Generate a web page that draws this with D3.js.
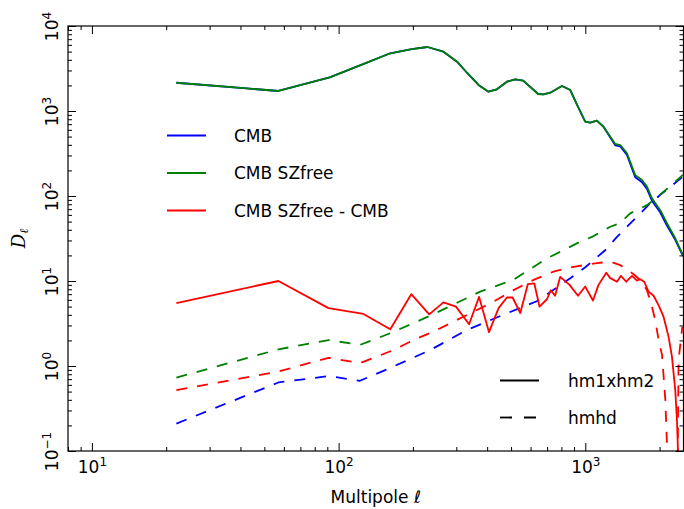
<!DOCTYPE html>
<html>
<head>
<meta charset="utf-8">
<script src="https://cdn.jsdelivr.net/npm/d3@7"></script>
<style>
  html, body { margin: 0; padding: 0; background: #fff; }
  svg { display: block; font-family: "DejaVu Sans", sans-serif; }
</style>
</head>
<body>
<svg id="chart" width="684" height="509"></svg>
<script>
// ---------- DATA ----------
// Solid curves (hm1xhm2)
const ellSolid   = [22, 57, 92, 125, 162, 198, 229, 266, 302, 332, 369, 405, 438, 481, 520, 560, 644, 677, 721, 804, 869, 927, 999, 1047, 1114, 1186, 1322, 1386, 1475, 1593, 1697, 1778, 1862, 2013, 2142, 2315, 2488];
const cmbSolid   = [2150, 1720, 2490, 3540, 4775, 5358, 5663, 4990, 3800, 2800, 2024, 1687, 1800, 2212, 2362, 2276, 1585, 1570, 1641, 1968, 1766, 1175, 748, 728, 769, 650, 395, 383, 305, 166, 145, 121, 88, 64, 45, 30.5, 19.6];
const szfSolid   = [2150, 1720, 2490, 3540, 4775, 5358, 5663, 4990, 3800, 2800, 2024, 1687, 1800, 2212, 2362, 2276, 1585, 1570, 1641, 1968, 1766, 1175, 748, 728, 769, 653, 409, 398, 318, 176, 154, 129, 94, 68, 48, 31.8, 20.2];
const ellDiff    = [22, 57, 91, 126, 162, 197, 233, 266, 299, 338, 371, 407, 445, 481, 507, 545, 585, 621, 652, 699, 725, 754, 791, 863, 934, 999, 1074, 1131, 1216, 1262, 1344, 1394, 1465, 1546, 1619, 1669, 1733, 1804, 1891, 1980, 2075, 2175, 2245, 2315, 2352, 2372, 2385];
const diffSolid  = [5.5, 10.0, 4.8, 4.1, 2.7, 7.0, 4.05, 5.6, 5.0, 3.1, 6.5, 2.5, 4.8, 6.4, 6.4, 4.2, 9.2, 9.4, 5.0, 6.1, 7.8, 6.7, 11.2, 9.0, 6.7, 8.6, 5.9, 9.0, 12.5, 10.8, 9.8, 11.5, 9.8, 11.5, 10.1, 10.5, 9.8, 7.5, 6.7, 5.2, 3.8, 2.2, 1.28, 0.52, 0.23, 0.11, 0.01];
// Dashed curves (hmhd)
const ellCmbDash = [22, 57, 91, 122, 162, 235, 331, 481, 580, 656, 710, 869, 1000, 1203, 1344, 1384, 1569, 1832, 2013, 2488];
const cmbDash    = [0.21, 0.64, 0.76, 0.67, 0.95, 1.54, 2.65, 4.17, 5.2, 6.0, 7.2, 10.8, 14.5, 23, 33, 36, 52, 82, 103, 169];
const ellSzfDash = [22, 57, 91, 122, 162, 235, 375, 511, 699, 791, 954, 1064, 1262, 1384, 1520, 1778, 1891, 2075, 2488];
const szfDash    = [0.73, 1.57, 2.02, 1.77, 2.43, 3.9, 7.5, 10.3, 18.5, 22, 29, 33, 43.5, 48, 62.5, 78, 89.7, 112, 177];
const ellDiffDash = [22, 57, 91, 122, 167, 201, 242, 292, 352, 424, 511, 617, 743, 896, 1114, 1262, 1384, 1569, 1669, 1778, 1862, 1920, 1982, 2046, 2110, 2140, 2175, 2350, 2388, 2472];
const diffDash   = [0.52, 0.86, 1.25, 1.08, 1.54, 2.02, 2.53, 3.32, 4.35, 5.7, 7.8, 10.3, 12.9, 14.7, 16.2, 16.9, 15.4, 12.0, 10.3, 7.8, 5.0, 3.47, 2.02, 1.35, 0.4, 0.13, 0.01, 0.01, 1.18, 2.88];

// Axis ticks
const xMajorTicks = [10, 100, 1000];
const xMinorTicks = [8, 9, 20, 30, 40, 50, 60, 70, 80, 90, 200, 300, 400, 500, 600, 700, 800, 900, 2000];
const yMajorTicks = [0.1, 1, 10, 100, 1000, 10000];
const yMinorTicks = [];
[0.1, 1, 10, 100, 1000].forEach(b => { for (let k = 2; k <= 9; k++) yMinorTicks.push(+(b * k).toPrecision(3)); });
const xDomain = [8, 2500];
const yDomain = [0.1, 10000];

// Legends
const legendSeries = ["CMB", "CMB SZfree", "CMB SZfree - CMB"];
const legendStyles = ["hm1xhm2", "hmhd"];
const seriesColors = ["#0000ff", "#008000", "#ff0000"];

// ---------- LAYOUT ----------
const L = 68, R = 683.5, T = 26, B = 451;
const FS = 17, FSUP = 12;
const svg = d3.select("#chart");
const x = d3.scaleLog().domain(xDomain).range([L, R]);
const y = d3.scaleLog().domain(yDomain).range([B, T]);

svg.append("defs").append("clipPath").attr("id", "plotclip")
  .append("rect").attr("x", L).attr("y", T).attr("width", R - L).attr("height", B - T);

const zip = (a, b) => a.map((v, i) => [v, b[i]]);
const line = d3.line().x(d => x(d[0])).y(d => y(d[1]));
const plot = svg.append("g").attr("clip-path", "url(#plotclip)");
const DASH = "11,10";
const LW = 1.8;

const curves = [
  { e: ellCmbDash, v: cmbDash, c: 0, dash: true },
  { e: ellSzfDash, v: szfDash, c: 1, dash: true },
  { e: ellDiffDash, v: diffDash, c: 2, dash: true },
  { e: ellSolid, v: cmbSolid, c: 0, dash: false },
  { e: ellSolid, v: szfSolid, c: 1, dash: false },
  { e: ellDiff, v: diffSolid, c: 2, dash: false }
];
curves.forEach(cv => {
  plot.append("path").datum(zip(cv.e, cv.v))
    .attr("d", line).attr("fill", "none")
    .attr("stroke", seriesColors[cv.c]).attr("stroke-width", LW)
    .attr("stroke-linejoin", "round")
    .attr("stroke-dasharray", cv.dash ? DASH : null);
});

// ---------- AXES ----------
function styleAxis(g) {
  g.select(".domain").remove();
  g.selectAll(".tick line").attr("stroke", "#000").attr("stroke-width", 1);
}
function supLabel(sel) {
  sel.each(function(d) {
    const t = d3.select(this);
    t.text(null);
    const e = Math.round(Math.log10(d));
    t.append("tspan").text("10");
    t.append("tspan").attr("dy", -7.5).attr("font-size", FSUP).text(e < 0 ? "\u2212" + (-e) : String(e));
  });
}
// bottom
const gxb = svg.append("g").attr("transform", `translate(0,${B})`)
  .call(d3.axisBottom(x).tickValues(xMajorTicks).tickSize(-8).tickSizeOuter(0));
gxb.call(styleAxis);
gxb.selectAll(".tick text").attr("y", 22).attr("dy", 0).attr("font-size", FS)
  .attr("font-family", "DejaVu Sans").attr("fill", "#000").attr("text-anchor", "middle").call(supLabel);
svg.append("g").attr("transform", `translate(0,${B})`)
  .call(d3.axisBottom(x).tickValues(xMinorTicks).tickSize(-4).tickSizeOuter(0).tickFormat(""))
  .call(styleAxis);
// top
svg.append("g").attr("transform", `translate(0,${T})`)
  .call(d3.axisTop(x).tickValues(xMajorTicks).tickSize(-8).tickSizeOuter(0).tickFormat("")).call(styleAxis);
svg.append("g").attr("transform", `translate(0,${T})`)
  .call(d3.axisTop(x).tickValues(xMinorTicks).tickSize(-4).tickSizeOuter(0).tickFormat("")).call(styleAxis);
// left
const gyl = svg.append("g").attr("transform", `translate(${L},0)`)
  .call(d3.axisLeft(y).tickValues(yMajorTicks).tickSize(-8).tickSizeOuter(0));
gyl.call(styleAxis);
gyl.selectAll(".tick text")
  .attr("x", null).attr("dy", 0).attr("font-size", FS)
  .attr("font-family", "DejaVu Sans").attr("fill", "#000")
  .attr("text-anchor", "middle")
  .attr("transform", "translate(-10,0) rotate(-90)")
  .call(supLabel);
svg.append("g").attr("transform", `translate(${L},0)`)
  .call(d3.axisLeft(y).tickValues(yMinorTicks).tickSize(-4).tickSizeOuter(0).tickFormat("")).call(styleAxis);
// right
svg.append("g").attr("transform", `translate(${R},0)`)
  .call(d3.axisRight(y).tickValues(yMajorTicks).tickSize(-8).tickSizeOuter(0).tickFormat("")).call(styleAxis);
svg.append("g").attr("transform", `translate(${R},0)`)
  .call(d3.axisRight(y).tickValues(yMinorTicks).tickSize(-4).tickSizeOuter(0).tickFormat("")).call(styleAxis);

// frame
svg.append("rect").attr("x", L).attr("y", T).attr("width", R - L).attr("height", B - T)
  .attr("fill", "none").attr("stroke", "#000").attr("stroke-width", 1.2);

// axis labels
svg.append("text").attr("x", (L + R) / 2).attr("y", 503).attr("text-anchor", "middle")
  .attr("font-size", FS).attr("fill", "#000")
  .text("Multipole \u2113");
const yl = svg.append("text").attr("transform", `translate(25,${(T + B) / 2}) rotate(-90)`)
  .attr("text-anchor", "middle").attr("fill", "#000");
yl.append("tspan").attr("font-family", "DejaVu Serif").attr("font-style", "italic").attr("font-size", 18).text("D");
yl.append("tspan").attr("font-family", "DejaVu Serif").attr("font-style", "italic").attr("font-size", 12).attr("dy", 3).text("\u2113");

// ---------- LEGENDS ----------
const lg1 = svg.append("g");
const rows1 = [135.5, 173, 210.5];
legendSeries.forEach((name, i) => {
  lg1.append("line").attr("x1", 167).attr("x2", 206).attr("y1", rows1[i]).attr("y2", rows1[i])
    .attr("stroke", seriesColors[i]).attr("stroke-width", LW);
  lg1.append("text").attr("x", 234).attr("y", rows1[i] + 6).attr("font-size", FS).attr("fill", "#000").text(name);
});
const lg2 = svg.append("g");
const rows2 = [380.5, 417.5];
legendStyles.forEach((name, i) => {
  lg2.append("line").attr("x1", 500).attr("x2", 539).attr("y1", rows2[i]).attr("y2", rows2[i])
    .attr("stroke", "#000").attr("stroke-width", LW)
    .attr("stroke-dasharray", i === 1 ? "12,12" : null);
  lg2.append("text").attr("x", 568).attr("y", rows2[i] + 6).attr("font-size", FS).attr("fill", "#000").text(name);
});
</script>
</body>
</html>
